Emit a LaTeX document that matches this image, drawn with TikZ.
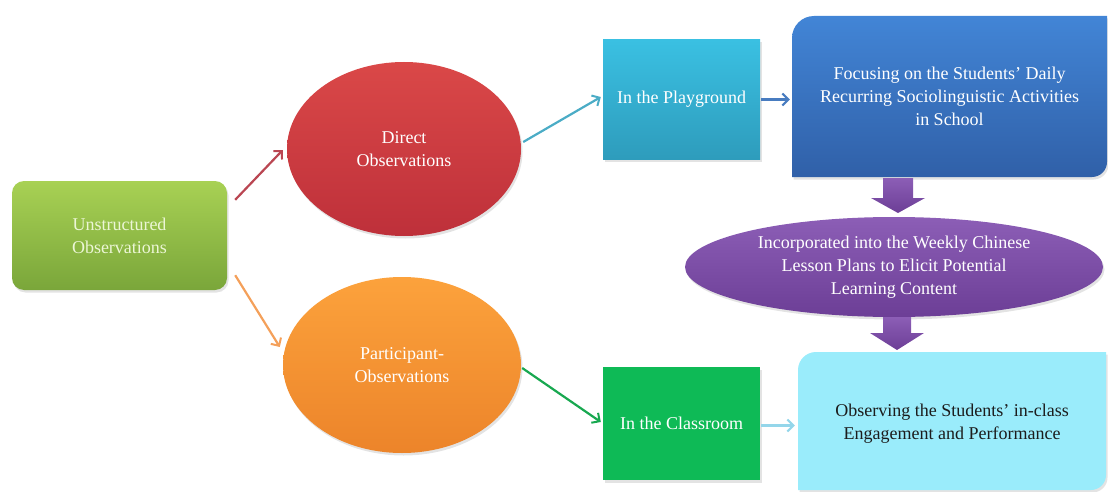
\documentclass[tikz,border=0pt]{standalone}
\usepackage{fontspec}
\setmainfont{Liberation Serif}
\usetikzlibrary{arrows.meta,shapes.geometric,shadows,backgrounds,calc}
\definecolor{gA}{RGB}{168,209,84}
\definecolor{gB}{RGB}{122,166,58}
\definecolor{gtext}{RGB}{236,246,214}
\definecolor{rA}{RGB}{218,72,72}
\definecolor{rB}{RGB}{190,48,58}
\definecolor{oA}{RGB}{252,162,60}
\definecolor{oB}{RGB}{236,132,42}
\definecolor{cA}{RGB}{58,192,226}
\definecolor{cB}{RGB}{46,156,188}
\definecolor{bA}{RGB}{66,133,214}
\definecolor{bB}{RGB}{48,96,168}
\definecolor{pA}{RGB}{140,94,182}
\definecolor{pB}{RGB}{108,62,150}
\definecolor{clsG}{RGB}{14,186,86}
\definecolor{ltC}{RGB}{154,236,251}
\definecolor{darkT}{RGB}{28,28,28}
\definecolor{aRed}{RGB}{186,70,82}
\definecolor{aOr}{RGB}{244,160,90}
\definecolor{aAqua}{RGB}{75,172,198}
\definecolor{aBlue}{RGB}{72,124,192}
\definecolor{aGreen}{RGB}{24,168,80}
\definecolor{aLt}{RGB}{148,214,234}
\begin{document}
\begin{tikzpicture}[x=1pt,y=1pt,
  lbl/.style={font=\fontsize{18}{23}\selectfont, align=center, text=white},
  conn/.style={line width=2.2pt, -{Straight Barb[length=6pt,width=12pt,line width=2pt]}},
  shd/.style={drop shadow={opacity=0.22,shadow xshift=1.5pt,shadow yshift=-2.5pt}},
  boxnode/.style={lbl, inner sep=0pt}
]
\useasboundingbox (0,0) rectangle (1108,491);

% left box
\node[rounded corners=12pt, minimum width=215pt, minimum height=109pt,
      top color=gA, bottom color=gB, shd, lbl, text=gtext] (uo) at (119.5,255.5)
      {Unstructured\\Observations};

% ellipses
\node[ellipse, inner sep=0pt, minimum width=234pt, minimum height=174pt,
      top color=rA, bottom color=rB, shd, lbl] (do) at (404,342)
      {Direct\\Observations};
\node[ellipse, inner sep=0pt, minimum width=238pt, minimum height=176pt,
      top color=oA, bottom color=oB, shd, lbl] (po) at (402,126)
      {Participant-\\Observations};

% middle boxes
\node[minimum width=157pt, minimum height=119pt, top color=cA, bottom color=cB,
      shd, lbl] (pg) at (681.5,391.5) {In the Playground};
\node[minimum width=157pt, minimum height=113pt, fill=clsG, shd, lbl] (cr)
      at (681.5,67.5) {In the Classroom};

% blue box
\shade[top color=bA, bottom color=bB, shd]
  (792,314) -- (792,453) arc[start angle=180,end angle=90,radius=22]
  -- (1107,475) -- (1107,329) arc[start angle=0,end angle=-90,radius=15] -- cycle;
\node[boxnode, minimum width=315pt, minimum height=161pt] (fc) at (949.5,394.5)
  {Focusing on the Students' Daily\\Recurring Sociolinguistic Activities\\in School};

% light box
\fill[ltC, shd]
  (798,1) -- (798,121) arc[start angle=180,end angle=90,radius=18]
  -- (1106,139) -- (1106,16) arc[start angle=0,end angle=-90,radius=15] -- cycle;
\node[boxnode, text=darkT, minimum width=308pt, minimum height=138pt] (ob) at (952,67)
  {Observing the Students' in-class\\Engagement and Performance};

% purple ellipse
\node[ellipse, inner sep=0pt, minimum width=418pt, minimum height=100pt,
      top color=pA, bottom color=pB, shd, lbl] (ic) at (894,224)
  {Incorporated into the Weekly Chinese\\Lesson Plans to Elicit Potential\\Learning Content};

% purple block arrows
\coordinate (pa1) at (898,313);
\coordinate (pa2) at (897,174);
\shade[top color=pA, bottom color=pB]
  ($(pa1)+(-15,0)$) -- ($(pa1)+(15,0)$) -- ($(pa1)+(15,-20)$) -- ($(pa1)+(27,-20)$)
  -- ($(pa1)+(0,-35)$) -- ($(pa1)+(-27,-20)$) -- ($(pa1)+(-15,-20)$) -- cycle;
\shade[top color=pA, bottom color=pB]
  ($(pa2)+(-14,0)$) -- ($(pa2)+(14,0)$) -- ($(pa2)+(14,-16)$) -- ($(pa2)+(27,-16)$)
  -- ($(pa2)+(0,-33)$) -- ($(pa2)+(-27,-16)$) -- ($(pa2)+(-14,-16)$) -- cycle;

% connectors
\draw[conn, aRed]   ([shift={(8,-19)}]uo.north east) -- ([shift={(-4,-1)}]do.west);
\draw[conn, aOr]    ([shift={(8,15)}]uo.south east) -- ([shift={(-3,18)}]po.west);
\draw[conn, aAqua]  ([shift={(2,7)}]do.east) -- ([shift={(-2,2.5)}]pg.west);
\draw[conn, aBlue]  ([shift={(1,0)}]pg.east) -- ([shift={(-2,0)}]pg.east -| fc.west);
\draw[conn, aGreen] ([shift={(1,-3)}]po.east) -- ([shift={(-2,1.5)}]cr.west);
\draw[conn, aLt]    ([shift={(1,-2)}]cr.east) -- ([shift={(-3,-2)}]cr.east -| ob.west);
\end{tikzpicture}
\end{document}
